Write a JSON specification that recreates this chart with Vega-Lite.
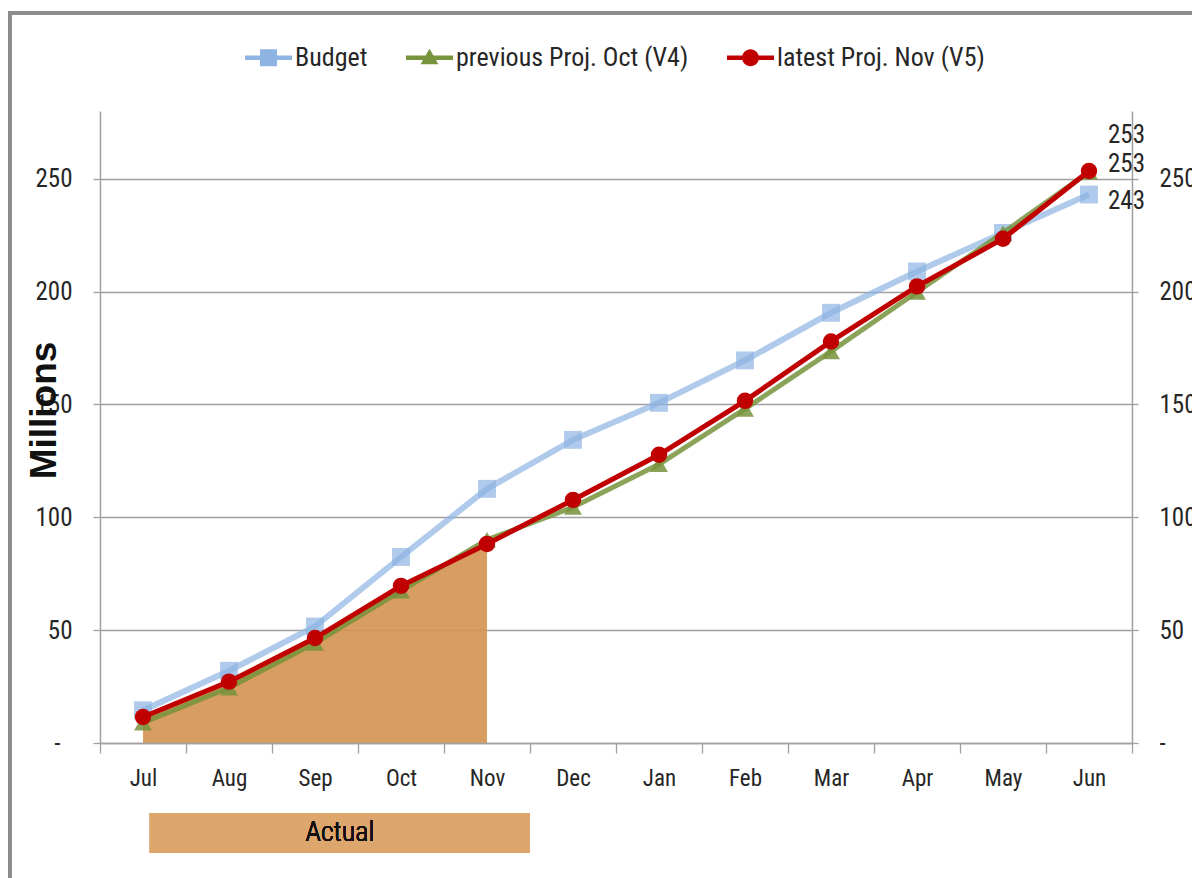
{
  "$schema": "https://vega.github.io/schema/vega-lite/v6.json",
  "width": 1032,
  "height": 632,
  "autosize": {"type": "none"},
  "padding": {"left": 100, "top": 111, "right": 60, "bottom": 135},
  "background": "white",
  "config": {
    "view": {"stroke": null},
    "font": "Liberation Sans Narrow, Arial Narrow, Roboto Condensed, DejaVu Sans Condensed, sans-serif"
  },
  "datasets": {
    "months": [
      {"month": "Jul", "budget": 14.5, "v4": 9, "v5": 11.5},
      {"month": "Aug", "budget": 32, "v4": 24.5, "v5": 27.2},
      {"month": "Sep", "budget": 51.6, "v4": 44.3, "v5": 46.5},
      {"month": "Oct", "budget": 82.4, "v4": 67.4, "v5": 69.6},
      {"month": "Nov", "budget": 112.6, "v4": 90, "v5": 88.2},
      {"month": "Dec", "budget": 134.3, "v4": 104.5, "v5": 107.7},
      {"month": "Jan", "budget": 150.7, "v4": 123.5, "v5": 127.7},
      {"month": "Feb", "budget": 169.5, "v4": 148, "v5": 151.6},
      {"month": "Mar", "budget": 190.6, "v4": 173.5, "v5": 177.9},
      {"month": "Apr", "budget": 208.9, "v4": 199.8, "v5": 202.3},
      {"month": "May", "budget": 226, "v4": 226, "v5": 223.4},
      {"month": "Jun", "budget": 243, "v4": 253, "v5": 253.4}
    ]
  },
  "data": {"name": "months"},
  "layer": [
    {
      "encoding": {
        "x": {
          "field": "month",
          "type": "nominal",
          "sort": ["Jul", "Aug", "Sep", "Oct", "Nov", "Dec", "Jan", "Feb", "Mar", "Apr", "May", "Jun"],
          "scale": {"paddingInner": 0, "paddingOuter": 0},
          "axis": {
            "title": null,
            "tickBand": "extent",
            "tickSize": 10,
            "tickColor": "#A0A0A0",
            "tickWidth": 1.3,
            "domainColor": "#A0A0A0",
            "domainWidth": 1.5,
            "labelFontSize": 23,
            "labelPadding": 14,
            "labelColor": "#262626",
            "labelAngle": 0,
            "grid": false
          }
        }
      },
      "layer": [
        {
          "mark": {"type": "rect", "fill": null, "stroke": "#8C8C8C", "strokeWidth": 3},
          "encoding": {
            "x": {"datum": "Jul", "bandPosition": -1.05},
            "x2": {"datum": "Jun", "bandPosition": 3},
            "y": {"datum": 323.5, "type": "quantitative", "axis": null, "scale": {"domain": [0, 280], "nice": false, "zero": true}},
            "y2": {"datum": -80}
          }
        },
        {
          "transform": [{"filter": {"field": "month", "oneOf": ["Jul", "Aug", "Sep", "Oct", "Nov"]}}],
          "mark": {"type": "area", "color": "#D4924F", "opacity": 0.9},
          "encoding": {
            "y": {"field": "v5", "type": "quantitative", "axis": null}
          }
        },
        {
          "mark": {"type": "rect", "color": "#DDA66C"},
          "encoding": {
            "x": {"datum": "Jul", "bandPosition": 0.58},
            "x2": {"datum": "Dec", "bandPosition": 0},
            "y": {"datum": -31, "type": "quantitative", "axis": null},
            "y2": {"datum": -48.5}
          }
        },
        {
          "mark": {"type": "text", "fontSize": 28, "fontWeight": 300, "color": "#111111", "align": "center", "baseline": "middle", "text": "Actual"},
          "encoding": {
            "x": {"datum": "Sep", "bandPosition": 0.79},
            "y": {"datum": -39.8, "type": "quantitative", "axis": null}
          }
        },
        {
          "transform": [{"fold": ["budget", "v4", "v5"], "as": ["series", "value"]}],
          "mark": {"type": "point", "filled": true, "opacity": 0},
          "encoding": {
            "y": {"field": "value", "type": "quantitative", "axis": null},
            "color": {
              "field": "series",
              "type": "nominal",
              "scale": {
                "domain": ["budget", "v4", "v5"],
                "range": ["#8DB4E2", "#77933C", "#C00000"]
              },
              "legend": {
                "orient": "none",
                "legendX": 145,
                "legendY": -77,
                "direction": "horizontal",
                "title": null,
                "labelExpr": "datum.label === 'budget' ? 'Budget' : datum.label === 'v4' ? 'previous Proj. Oct (V4)' : 'latest Proj. Nov (V5)'",
                "labelFontSize": 26,
                "labelColor": "#262626",
                "labelOffset": 3,
                "labelLimit": 400,
                "columnPadding": 38,
                "symbolSize": 2209,
                "symbolStrokeWidth": 0,
                "symbolOpacity": 1
              }
            },
            "shape": {
              "field": "series",
              "type": "nominal",
              "scale": {
                "domain": ["budget", "v4", "v5"],
                "range": [
                  "M-1,-0.1H1V0.1H-1ZM-0.36,-0.36H0.36V0.36H-0.36Z",
                  "M-1,-0.1H1V0.1H-1ZM0,-0.38L0.38,0.28H-0.38Z",
                  "M-1,-0.1H1V0.1H-1ZM-0.36,0A0.36,0.36 0 1,1 0.36,0A0.36,0.36 0 1,1 -0.36,0Z"
                ]
              },
              "legend": {
                "orient": "none",
                "legendX": 145,
                "legendY": -77,
                "direction": "horizontal",
                "title": null,
                "labelExpr": "datum.label === 'budget' ? 'Budget' : datum.label === 'v4' ? 'previous Proj. Oct (V4)' : 'latest Proj. Nov (V5)'",
                "labelFontSize": 26,
                "labelColor": "#262626",
                "labelOffset": 3,
                "labelLimit": 400,
                "columnPadding": 38,
                "symbolSize": 2209,
                "symbolStrokeWidth": 0,
                "symbolOpacity": 1
              }
            }
          }
        },
        {
          "mark": {
            "type": "line",
            "strokeWidth": 6,
            "opacity": 0.7,
            "point": {"shape": "square", "size": 320, "filled": true, "opacity": 0.7}
          },
          "encoding": {
            "y": {"field": "budget", "type": "quantitative", "axis": null},
            "color": {"datum": "budget", "type": "nominal", "legend": null}
          }
        },
        {
          "mark": {
            "type": "line",
            "strokeWidth": 5,
            "opacity": 0.85,
            "point": {"shape": "triangle-up", "size": 320, "filled": true, "opacity": 0.85}
          },
          "encoding": {
            "y": {"field": "v4", "type": "quantitative", "axis": null},
            "color": {"datum": "v4", "type": "nominal", "legend": null}
          }
        },
        {
          "mark": {
            "type": "line",
            "strokeWidth": 5,
            "point": {"shape": "circle", "size": 270, "filled": true, "opacity": 1}
          },
          "encoding": {
            "y": {"field": "v5", "type": "quantitative", "axis": null},
            "color": {"datum": "v5", "type": "nominal", "legend": null}
          }
        },
        {
          "transform": [{"filter": {"field": "month", "equal": "Jun"}}],
          "mark": {"type": "text", "fontSize": 25, "color": "#262626", "align": "left", "baseline": "middle", "dx": 19, "dy": -37},
          "encoding": {
            "y": {"field": "v4", "type": "quantitative", "axis": null},
            "text": {"field": "v4", "type": "quantitative", "format": ".0f"}
          }
        },
        {
          "transform": [{"filter": {"field": "month", "equal": "Jun"}}],
          "mark": {"type": "text", "fontSize": 25, "color": "#262626", "align": "left", "baseline": "middle", "dx": 19, "dy": -7},
          "encoding": {
            "y": {"field": "v5", "type": "quantitative", "axis": null},
            "text": {"field": "v5", "type": "quantitative", "format": ".0f"}
          }
        },
        {
          "transform": [{"filter": {"field": "month", "equal": "Jun"}}],
          "mark": {"type": "text", "fontSize": 25, "color": "#262626", "align": "left", "baseline": "middle", "dx": 19, "dy": 6},
          "encoding": {
            "y": {"field": "budget", "type": "quantitative", "axis": null},
            "text": {"field": "budget", "type": "quantitative", "format": ".0f"}
          }
        }
      ]
    },
    {
      "mark": {"type": "rule", "opacity": 0},
      "encoding": {
        "y": {
          "datum": 0,
          "type": "quantitative",
          "axis": {
            "orient": "left",
            "title": "Millions",
            "titleFont": "Liberation Sans, Arial, sans-serif",
            "titleFontWeight": "bold",
            "titleFontSize": 37,
            "titleColor": "#111111",
            "titleX": -45,
            "titleY": 299,
            "titleBaseline": "alphabetic",
            "titleAngle": -90,
            "values": [0, 50, 100, 150, 200, 250],
            "labelExpr": "datum.value === 0 ? '-' : datum.label",
            "labelFontSize": 25,
            "labelColor": "#262626",
            "labelPadding": {"condition": {"test": "datum.value === 0", "value": 33}, "value": 21},
            "tickSize": 7,
            "tickColor": "#A0A0A0",
            "tickWidth": 1.3,
            "domainColor": "#A0A0A0",
            "domainWidth": 1.5,
            "grid": true,
            "gridColor": "#A0A0A0",
            "gridWidth": 1.3
          }
        }
      }
    },
    {
      "mark": {"type": "rule", "opacity": 0},
      "encoding": {
        "y": {
          "datum": 0,
          "type": "quantitative",
          "axis": {
            "orient": "right",
            "title": null,
            "values": [0, 50, 100, 150, 200, 250],
            "labelExpr": "datum.value === 0 ? '-' : datum.label",
            "labelFontSize": 25,
            "labelColor": "#262626",
            "labelPadding": 21,
            "tickSize": 6,
            "tickColor": "#A0A0A0",
            "tickWidth": 1.3,
            "domainColor": "#A0A0A0",
            "domainWidth": 1.5,
            "grid": false
          }
        }
      }
    }
  ],
  "resolve": {"axis": {"y": "independent"}}
}
